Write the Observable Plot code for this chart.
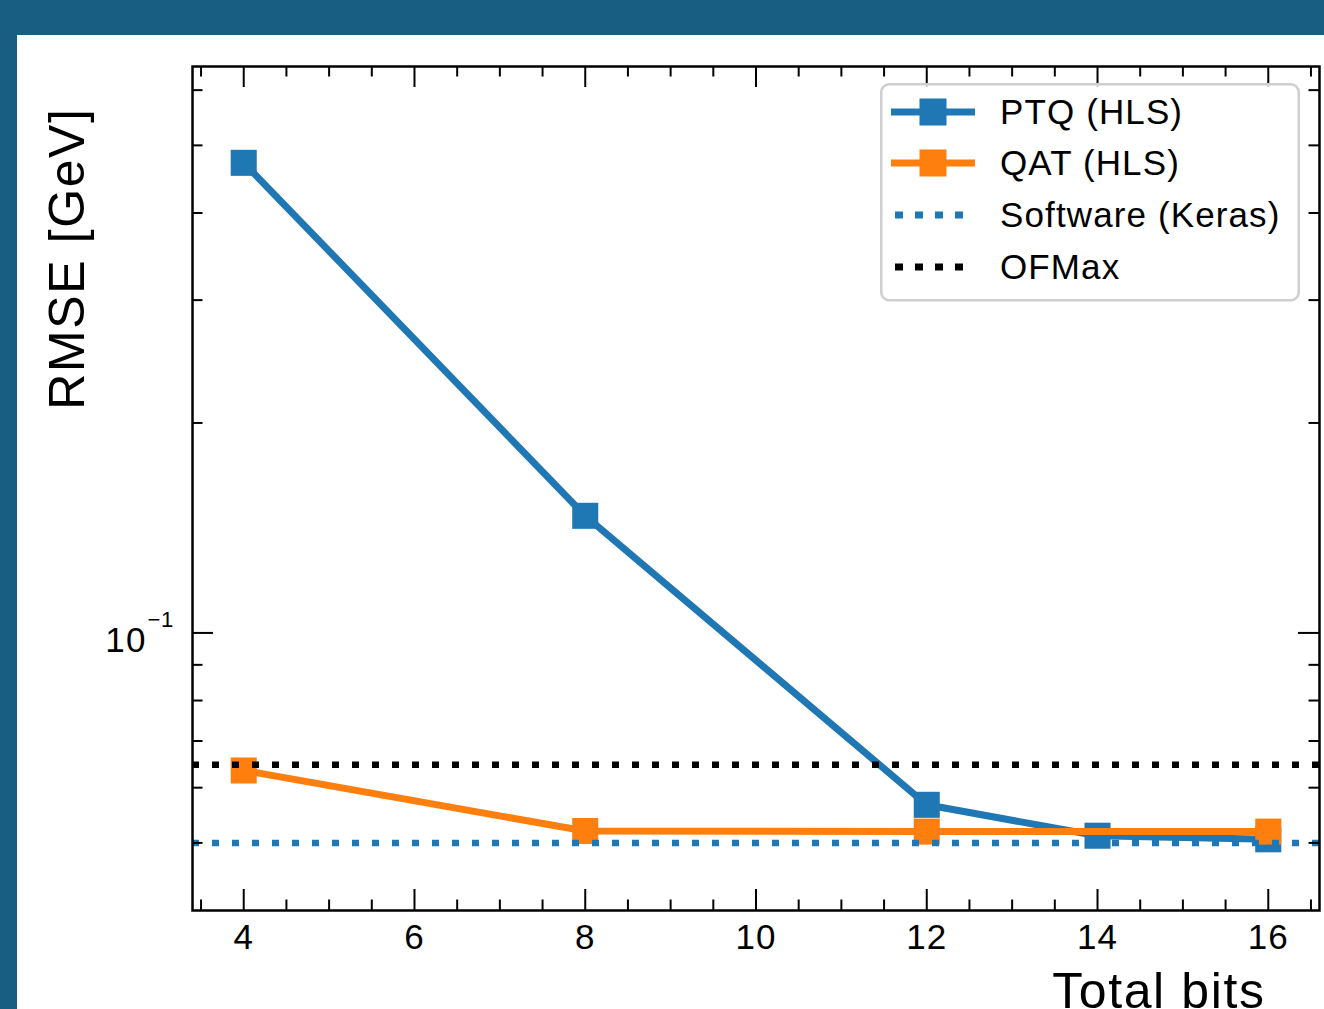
<!DOCTYPE html>
<html>
<head>
<meta charset="utf-8">
<script src="https://cdn.jsdelivr.net/npm/d3@7"></script>
<script src="https://cdn.jsdelivr.net/npm/@observablehq/plot@0.6"></script>
<style>
  html, body { margin: 0; padding: 0; background: #185e82; }
  #page { position: relative; width: 1324px; height: 1009px; background: #185e82; overflow: hidden;
          font-family: "Liberation Sans", Arial, Helvetica, sans-serif; }
  #panel { position: absolute; left: 17px; top: 35px; width: 1307px; height: 974px; background: #ffffff; }
  #legend { position: absolute; left: 879px; top: 82px; }
</style>
</head>
<body>
<div id="page">
  <div id="panel"></div>
  <svg id="legend" width="422" height="221"></svg>
</div>
<script>
// ---------------- data ----------------
const ptqBits = [4, 8, 12, 14, 16];
const ptqRmse = [0.472, 0.1472, 0.0567, 0.0512, 0.0506];
const qatBits = [4, 8, 12, 16];
const qatRmse = [0.0635, 0.0520, 0.0519, 0.0519];
const softwareRmse = [0.0500];
const ofmaxRmse = [0.0647];

const seriesNames = ["PTQ (HLS)", "QAT (HLS)", "Software (Keras)", "OFMax"];
const seriesColors = ["#1f77b4", "#ff7f0e", "#1f77b4", "#000000"];
const seriesKinds = ["marker", "marker", "dotted", "dotted"];

const xMajorTicks = [4, 6, 8, 10, 12, 14, 16];
const xMinorTicks = [3.5, 4.5, 5, 5.5, 6.5, 7, 7.5, 8.5, 9, 9.5, 10.5, 11, 11.5, 12.5, 13, 13.5, 14.5, 15, 15.5, 16.5];
const yMajorTicks = [0.1];
const yMinorTicks = [0.05, 0.06, 0.07, 0.08, 0.09, 0.2, 0.3, 0.4, 0.5, 0.6];
const xDomain = [3.4, 16.6];
const yDomain = [0.04, 0.6487];
const xLabel = "Total bits";
const yLabel = "RMSE [GeV]";

// ---------------- build ----------------
const ptq = ptqBits.map((b, i) => ({bits: b, rmse: ptqRmse[i]}));
const qat = qatBits.map((b, i) => ({bits: b, rmse: qatRmse[i]}));

const W = 1307, H = 974;
const mL = 175, mR = 5, mT = 31, mB = 99;
const fw = W - mL - mR, fh = H - mT - mB;
const majorLen = 21, minorLen = 10.5;
const font = "Liberation Sans, Arial, Helvetica, sans-serif";
const dotted = {strokeWidth: 6.5, strokeDasharray: "7 13"};
const spacing = 0.032; // em, widens Liberation Sans toward the reference face

const chart = Plot.plot({
  width: W, height: H,
  marginLeft: mL, marginRight: mR, marginTop: mT, marginBottom: mB,
  style: {fontFamily: font, background: "white", color: "black", overflow: "visible"},
  x: {domain: xDomain},
  y: {type: "log", domain: yDomain},
  marks: [
    // PTQ
    Plot.line(ptq, {x: "bits", y: "rmse", stroke: seriesColors[0], strokeWidth: 7, strokeLinejoin: "round"}),
    Plot.dot(ptq, {x: "bits", y: "rmse", symbol: "square", r: 14.7, fill: seriesColors[0]}),
    // QAT
    Plot.line(qat, {x: "bits", y: "rmse", stroke: seriesColors[1], strokeWidth: 7, strokeLinejoin: "round"}),
    Plot.dot(qat, {x: "bits", y: "rmse", symbol: "square", r: 14.7, fill: seriesColors[1]}),
    // reference lines
    Plot.ruleY(softwareRmse, {y: d => d, stroke: seriesColors[2], ...dotted}),
    Plot.ruleY(ofmaxRmse, {y: d => d, stroke: seriesColors[3], ...dotted}),
    // inward ticks, bottom / top
    Plot.tickX(xMajorTicks, {x: d => d, insetTop: fh - majorLen, stroke: "black", strokeWidth: 2}),
    Plot.tickX(xMinorTicks, {x: d => d, insetTop: fh - minorLen, stroke: "black", strokeWidth: 2}),
    Plot.tickX(xMajorTicks, {x: d => d, insetBottom: fh - majorLen, stroke: "black", strokeWidth: 2}),
    Plot.tickX(xMinorTicks, {x: d => d, insetBottom: fh - minorLen, stroke: "black", strokeWidth: 2}),
    // inward ticks, left / right
    Plot.tickY(yMajorTicks, {y: d => d, insetRight: fw - majorLen, stroke: "black", strokeWidth: 2}),
    Plot.tickY(yMinorTicks, {y: d => d, insetRight: fw - minorLen, stroke: "black", strokeWidth: 2}),
    Plot.tickY(yMajorTicks, {y: d => d, insetLeft: fw - majorLen, stroke: "black", strokeWidth: 2}),
    Plot.tickY(yMinorTicks, {y: d => d, insetLeft: fw - minorLen, stroke: "black", strokeWidth: 2}),
    Plot.frame({stroke: "black", strokeWidth: 2.5}),
    // tick labels
    Plot.axisX(xMajorTicks, {tickSize: 0, tickPadding: 38, fontSize: 35, lineAnchor: "bottom", label: null}),
    Plot.axisY(yMajorTicks, {tickSize: 0, tickPadding: 46, tickFormat: () => "10", fontSize: 35, lineAnchor: "bottom", dy: 19, label: null}),
    Plot.text(yMajorTicks, {y: d => d, frameAnchor: "left", text: () => "\u22121", textAnchor: "start", lineAnchor: "bottom", dx: -45, dy: -6, fontSize: 22}),
    // axis labels
    Plot.text([xLabel], {frameAnchor: "bottom-right", text: d => d, textAnchor: "end", lineAnchor: "bottom", dx: -54, dy: 97, fontSize: 50}),
    Plot.text([yLabel], {frameAnchor: "top-left", text: d => d, rotate: -90, textAnchor: "end", lineAnchor: "bottom", dx: -109, dy: 41, fontSize: 50})
  ]
});
document.getElementById("panel").appendChild(chart);

// ---------------- legend ----------------
const lg = d3.select("#legend");
lg.append("rect").attr("x", 2.25).attr("y", 2.25).attr("width", 417.5).attr("height", 216)
  .attr("rx", 8).attr("fill", "white").attr("fill-opacity", 0.8)
  .attr("stroke", "#cfcfcf").attr("stroke-width", 2.5);
const rowY = [30, 81, 133, 185];
seriesNames.forEach((name, i) => {
  const y = rowY[i];
  if (seriesKinds[i] === "marker") {
    lg.append("line").attr("x1", 12).attr("x2", 96).attr("y1", y).attr("y2", y)
      .attr("stroke", seriesColors[i]).attr("stroke-width", 7);
    lg.append("rect").attr("x", 54 - 13.5).attr("y", y - 13.5).attr("width", 27).attr("height", 27)
      .attr("fill", seriesColors[i]);
  } else {
    lg.append("line").attr("x1", 16).attr("x2", 88).attr("y1", y).attr("y2", y)
      .attr("stroke", seriesColors[i]).attr("stroke-width", 7).attr("stroke-dasharray", "8 12");
  }
  lg.append("text").attr("x", 121).attr("y", y + 12).attr("font-size", 35)
    .attr("font-family", font).attr("fill", "black").text(name);
});

// widen letter spacing slightly on every text (Helvetica-like reference is wider than Liberation Sans)
document.querySelectorAll("#page svg text").forEach(t => {
  const fs = parseFloat(getComputedStyle(t).fontSize) || 16;
  t.style.letterSpacing = (fs * spacing).toFixed(2) + "px";
});
</script>
</body>
</html>
